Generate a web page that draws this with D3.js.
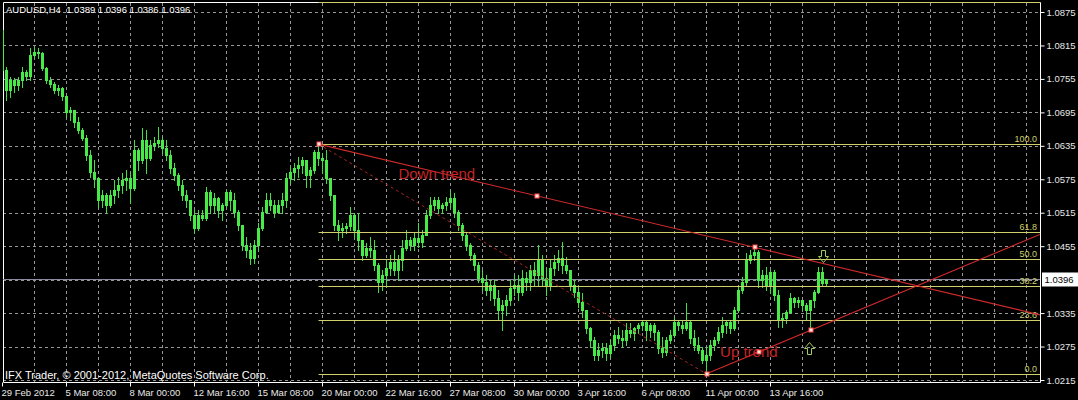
<!DOCTYPE html>
<html><head><meta charset="utf-8">
<script src="https://cdn.jsdelivr.net/npm/d3@7"></script>
<style>html,body{margin:0;padding:0;background:#000;overflow:hidden}svg{display:block}</style>
</head><body><svg id="c" width="1078" height="400"></svg>
<script>
// ---------- data ----------
const chartTitle = "AUDUSD,H4  1.0389 1.0396 1.0386 1.0396";
const copyrightText = "IFX Trader, \u00A9 2001-2012, MetaQuotes Software Corp.";
const timeLabels = ["29 Feb 2012","5 Mar 08:00","8 Mar 00:00","12 Mar 16:00","15 Mar 08:00","20 Mar 00:00","22 Mar 16:00","27 Mar 08:00","30 Mar 00:00","3 Apr 16:00","6 Apr 08:00","11 Apr 00:00","13 Apr 16:00"];
const timeLabelBars = [0,16,32,48,64,80,96,112,128,144,160,176,192];
const priceTicks = [1.0875,1.0815,1.0755,1.0695,1.0635,1.0575,1.0515,1.0455,1.0335,1.0275,1.0215];
const gridPrices = [1.0875,1.0815,1.0755,1.0695,1.0635,1.0575,1.0515,1.0455,1.0395,1.0335,1.0275,1.0215];

const opens = [1.0843,1.0771,1.0735,1.0753,1.0744,1.0753,1.0767,1.0760,1.0798,1.0803,
1.0801,1.0775,1.0753,1.0746,1.0735,1.0739,1.0724,1.0696,1.0699,1.0678,
1.0663,1.0649,1.0618,1.0588,1.0577,1.0538,1.0547,1.0529,1.0547,1.0556,
1.0565,1.0574,1.0577,1.0559,1.0627,1.0610,1.0645,1.0613,1.0636,1.0640,
1.0645,1.0631,1.0618,1.0595,1.0583,1.0565,1.0547,1.0538,1.0511,1.0488,
1.0511,1.0505,1.0552,1.0529,1.0541,1.0520,1.0529,1.0552,1.0538,1.0516,
1.0493,1.0457,1.0448,1.0434,1.0457,1.0488,1.0516,1.0538,1.0529,1.0516,
1.0529,1.0538,1.0577,1.0588,1.0595,1.0600,1.0610,1.0583,1.0592,1.0624,
1.0613,1.0610,1.0577,1.0547,1.0493,1.0484,1.0488,1.0491,1.0511,1.0484,
1.0466,1.0439,1.0452,1.0448,1.0421,1.0391,1.0403,1.0416,1.0427,1.0412,
1.0430,1.0452,1.0466,1.0457,1.0470,1.0462,1.0475,1.0511,1.0529,1.0538,
1.0523,1.0529,1.0534,1.0541,1.0516,1.0493,1.0475,1.0457,1.0439,1.0421,
1.0398,1.0391,1.0376,1.0385,1.0362,1.0340,1.0349,1.0358,1.0380,1.0385,
1.0373,1.0398,1.0391,1.0412,1.0403,1.0430,1.0398,1.0385,1.0416,1.0427,
1.0434,1.0421,1.0412,1.0385,1.0373,1.0355,1.0340,1.0308,1.0287,1.0260,
1.0269,1.0272,1.0263,1.0278,1.0295,1.0290,1.0287,1.0304,1.0299,1.0308,
1.0313,1.0319,1.0304,1.0313,1.0301,1.0272,1.0265,1.0287,1.0295,1.0319,
1.0313,1.0308,1.0319,1.0290,1.0278,1.0269,1.0251,1.0260,1.0278,1.0287,
1.0301,1.0313,1.0319,1.0308,1.0340,1.0376,1.0391,1.0430,1.0439,1.0444,
1.0394,1.0403,1.0385,1.0409,1.0367,1.0322,1.0326,1.0337,1.0362,1.0355,
1.0358,1.0349,1.0340,1.0358,1.0373,1.0409,1.0389];

const highs = [1.0852,1.0776,1.0758,1.0757,1.0758,1.0776,1.0771,1.0810,1.0812,1.0810,
1.0803,1.0776,1.0758,1.0749,1.0744,1.0740,1.0726,1.0705,1.0699,1.0687,
1.0667,1.0654,1.0627,1.0610,1.0579,1.0556,1.0550,1.0556,1.0574,1.0579,
1.0586,1.0592,1.0586,1.0645,1.0631,1.0667,1.0663,1.0645,1.0651,1.0669,
1.0651,1.0645,1.0627,1.0604,1.0586,1.0574,1.0556,1.0538,1.0520,1.0520,
1.0520,1.0561,1.0556,1.0550,1.0543,1.0532,1.0556,1.0556,1.0550,1.0520,
1.0493,1.0471,1.0461,1.0466,1.0496,1.0525,1.0550,1.0550,1.0538,1.0538,
1.0550,1.0586,1.0597,1.0604,1.0615,1.0615,1.0610,1.0597,1.0627,1.0638,
1.0622,1.0627,1.0577,1.0547,1.0502,1.0496,1.0496,1.0525,1.0514,1.0514,
1.0466,1.0461,1.0471,1.0466,1.0425,1.0412,1.0430,1.0439,1.0448,1.0439,
1.0466,1.0484,1.0471,1.0478,1.0496,1.0484,1.0520,1.0543,1.0543,1.0543,
1.0532,1.0543,1.0556,1.0550,1.0520,1.0496,1.0478,1.0461,1.0443,1.0427,
1.0412,1.0403,1.0394,1.0394,1.0376,1.0358,1.0367,1.0394,1.0403,1.0403,
1.0412,1.0409,1.0421,1.0427,1.0457,1.0439,1.0416,1.0430,1.0439,1.0448,
1.0462,1.0435,1.0412,1.0394,1.0382,1.0371,1.0340,1.0310,1.0292,1.0281,
1.0281,1.0281,1.0287,1.0304,1.0310,1.0304,1.0317,1.0317,1.0310,1.0317,
1.0322,1.0322,1.0317,1.0317,1.0304,1.0292,1.0292,1.0304,1.0328,1.0322,
1.0322,1.0353,1.0322,1.0304,1.0292,1.0274,1.0274,1.0287,1.0292,1.0310,
1.0328,1.0322,1.0322,1.0346,1.0382,1.0400,1.0443,1.0448,1.0453,1.0448,
1.0412,1.0418,1.0412,1.0412,1.0376,1.0335,1.0340,1.0371,1.0364,1.0364,
1.0358,1.0353,1.0358,1.0376,1.0418,1.0418,1.0396];

const lows = [1.0753,1.0717,1.0722,1.0732,1.0735,1.0740,1.0753,1.0753,1.0794,1.0793,
1.0771,1.0748,1.0740,1.0730,1.0726,1.0717,1.0687,1.0681,1.0669,1.0658,
1.0645,1.0610,1.0579,1.0561,1.0525,1.0525,1.0514,1.0525,1.0532,1.0543,
1.0550,1.0556,1.0532,1.0556,1.0592,1.0604,1.0586,1.0610,1.0627,1.0633,
1.0622,1.0610,1.0586,1.0574,1.0556,1.0538,1.0525,1.0502,1.0478,1.0484,
1.0502,1.0502,1.0514,1.0514,1.0507,1.0502,1.0525,1.0520,1.0507,1.0484,
1.0448,1.0435,1.0423,1.0425,1.0448,1.0484,1.0514,1.0520,1.0507,1.0514,
1.0514,1.0525,1.0568,1.0574,1.0579,1.0586,1.0561,1.0561,1.0586,1.0600,
1.0586,1.0568,1.0538,1.0484,1.0466,1.0471,1.0478,1.0484,1.0471,1.0448,
1.0430,1.0435,1.0435,1.0412,1.0373,1.0376,1.0385,1.0403,1.0403,1.0394,
1.0412,1.0448,1.0448,1.0448,1.0453,1.0453,1.0475,1.0505,1.0520,1.0514,
1.0514,1.0520,1.0525,1.0507,1.0484,1.0466,1.0448,1.0430,1.0412,1.0391,
1.0376,1.0367,1.0358,1.0349,1.0322,1.0304,1.0331,1.0349,1.0367,1.0358,
1.0367,1.0376,1.0376,1.0385,1.0385,1.0385,1.0367,1.0376,1.0403,1.0412,
1.0407,1.0407,1.0376,1.0364,1.0346,1.0328,1.0299,1.0274,1.0251,1.0251,
1.0256,1.0251,1.0256,1.0269,1.0281,1.0274,1.0278,1.0292,1.0287,1.0299,
1.0304,1.0287,1.0292,1.0287,1.0263,1.0256,1.0260,1.0281,1.0292,1.0304,
1.0299,1.0304,1.0281,1.0269,1.0263,1.0245,1.0226,1.0251,1.0269,1.0281,
1.0292,1.0299,1.0299,1.0304,1.0337,1.0371,1.0385,1.0425,1.0430,1.0382,
1.0382,1.0376,1.0371,1.0358,1.0310,1.0310,1.0317,1.0335,1.0346,1.0346,
1.0340,1.0322,1.0304,1.0346,1.0371,1.0385,1.0386];

const closes = [1.0771,1.0735,1.0753,1.0744,1.0753,1.0767,1.0760,1.0798,1.0803,1.0801,
1.0775,1.0753,1.0746,1.0735,1.0739,1.0724,1.0696,1.0699,1.0678,1.0663,
1.0649,1.0618,1.0588,1.0577,1.0538,1.0547,1.0529,1.0547,1.0556,1.0565,
1.0574,1.0577,1.0559,1.0627,1.0610,1.0645,1.0613,1.0636,1.0640,1.0645,
1.0631,1.0618,1.0595,1.0583,1.0565,1.0547,1.0538,1.0511,1.0488,1.0511,
1.0505,1.0552,1.0529,1.0541,1.0520,1.0529,1.0552,1.0538,1.0516,1.0493,
1.0457,1.0448,1.0434,1.0457,1.0488,1.0516,1.0538,1.0529,1.0516,1.0529,
1.0538,1.0577,1.0588,1.0595,1.0600,1.0610,1.0583,1.0592,1.0624,1.0613,
1.0610,1.0577,1.0547,1.0493,1.0484,1.0488,1.0491,1.0511,1.0484,1.0466,
1.0439,1.0452,1.0448,1.0421,1.0391,1.0403,1.0416,1.0427,1.0412,1.0430,
1.0452,1.0466,1.0457,1.0470,1.0462,1.0475,1.0511,1.0529,1.0538,1.0523,
1.0529,1.0534,1.0541,1.0516,1.0493,1.0475,1.0457,1.0439,1.0421,1.0398,
1.0391,1.0376,1.0385,1.0362,1.0340,1.0349,1.0358,1.0380,1.0385,1.0373,
1.0398,1.0391,1.0412,1.0403,1.0430,1.0398,1.0385,1.0416,1.0427,1.0434,
1.0421,1.0412,1.0385,1.0373,1.0355,1.0340,1.0308,1.0287,1.0260,1.0269,
1.0272,1.0263,1.0278,1.0295,1.0290,1.0287,1.0304,1.0299,1.0308,1.0313,
1.0319,1.0304,1.0313,1.0301,1.0272,1.0265,1.0287,1.0295,1.0319,1.0313,
1.0308,1.0319,1.0290,1.0278,1.0269,1.0251,1.0260,1.0278,1.0287,1.0301,
1.0313,1.0319,1.0308,1.0340,1.0376,1.0391,1.0430,1.0439,1.0444,1.0394,
1.0403,1.0385,1.0409,1.0367,1.0322,1.0326,1.0337,1.0362,1.0355,1.0358,
1.0349,1.0340,1.0358,1.0373,1.0409,1.0389,1.0396];

const bidPrice = 1.0396;
const fibHigh = {bar: 79, price: 1.0638};
const fibLow = {bar: 176, price: 1.0226};
const fibLevels = [0, 23.6, 38.2, 50.0, 61.8, 100.0, 161.8];
const downTrend = [{bar: 79, price: 1.0638}, {bar: 188, price: 1.0453}];
const upTrend = [{bar: 176, price: 1.0226}, {bar: 202, price: 1.0304}];
const textNotes = [{text: "Down trend", bar: 99, price: 1.05754}, {text: "Up trend", bar: 179.4, price: 1.02562}];
const arrowMarks = [{dir: "down", bar: 205.1, price: 1.04373}, {dir: "up", bar: 201.5, price: 1.02732}];

// ---------- drawing ----------
const W = 1078, H = 400;
const plot = {left: 3, right: 1040, top: 3, bottom: 382};
const FONT = "'Liberation Sans', Arial, sans-serif";
const x = d3.scaleLinear().domain([0, 256]).range([2.5, 1026.5]);
const y = d3.scaleLinear().domain([1.0215, 1.0875]).range([380, 12]);
const crisp = v => Math.round(v) + 0.5;

const svg = d3.select('#c');
svg.append('rect').attr('width', W).attr('height', H).attr('fill', '#000');
svg.append('defs').append('clipPath').attr('id', 'plotclip')
  .append('rect').attr('x', plot.left).attr('y', 0).attr('width', plot.right - plot.left).attr('height', plot.bottom + 0.5);

// grid
const grid = svg.append('g').attr('stroke', '#969696').attr('stroke-width', 1).attr('stroke-dasharray', '3,3');
grid.selectAll('line.h').data(gridPrices).join('line').attr('class', 'h')
  .attr('x1', plot.left).attr('x2', plot.right)
  .attr('y1', d => crisp(y(d))).attr('y2', d => crisp(y(d)));
const vgrid = d3.range(8, 257, 8);
grid.selectAll('line.v').data(vgrid).join('line').attr('class', 'v')
  .attr('x1', d => x(d)).attr('x2', d => x(d))
  .attr('y1', plot.top).attr('y2', plot.bottom);

// border
const border = svg.append('g').attr('stroke', '#ffffff').attr('stroke-width', 1).attr('fill', 'none');
border.append('path').attr('d', `M${plot.left + 0.5},${plot.bottom + 0.5}V2.5H${plot.right + 0.5}V${plot.bottom + 0.5}H${plot.left + 0.5}`);

// bid line
svg.append('line').attr('x1', plot.left).attr('x2', plot.right)
  .attr('y1', crisp(y(bidPrice))).attr('y2', crisp(y(bidPrice)))
  .attr('stroke', '#8a8aa0').attr('stroke-width', 1);

// candles
const bars = closes.map((c, i) => ({i, o: opens[i], h: highs[i], l: lows[i], c}));
const cg = svg.append('g').attr('clip-path', 'url(#plotclip)');
cg.selectAll('line.wick').data(bars).join('line').attr('class', 'wick')
  .attr('x1', d => x(d.i)).attr('x2', d => x(d.i))
  .attr('y1', d => Math.round(y(d.h))).attr('y2', d => Math.round(y(d.l)) + 1)
  .attr('stroke', '#3fe03f').attr('stroke-width', 1);
cg.selectAll('rect.body').data(bars).join('rect').attr('class', 'body')
  .attr('x', d => x(d.i) - 1.5).attr('width', 3)
  .attr('y', d => Math.round(y(Math.max(d.o, d.c))))
  .attr('height', d => Math.max(1, Math.round(y(Math.min(d.o, d.c))) - Math.round(y(Math.max(d.o, d.c))) + 1))
  .attr('fill', '#48ea48');

// fibonacci
const fibG = svg.append('g');
const fibPrice = lv => fibLow.price + (fibHigh.price - fibLow.price) * lv / 100;
fibG.selectAll('line').data(fibLevels).join('line')
  .attr('x1', x(fibHigh.bar)).attr('x2', plot.right)
  .attr('y1', d => crisp(y(fibPrice(d)))).attr('y2', d => crisp(y(fibPrice(d))))
  .attr('stroke', '#cfcf6c').attr('stroke-width', 1);
fibG.selectAll('text').data(fibLevels.filter(d => y(fibPrice(d)) > 12)).join('text')
  .attr('x', plot.right - 3).attr('y', d => crisp(y(fibPrice(d))) - 2.5)
  .attr('text-anchor', 'end').attr('font-family', FONT).attr('font-size', 9)
  .attr('fill', '#cfcf6c').text(d => d.toFixed(1));

// fib base dashed line
svg.append('line')
  .attr('x1', x(fibHigh.bar)).attr('y1', y(fibHigh.price))
  .attr('x2', x(fibLow.bar)).attr('y2', y(fibLow.price))
  .attr('stroke', '#a82424').attr('stroke-width', 1).attr('stroke-dasharray', '3,3');

// trend rays
const rayEnd = t => {
  const b = x.invert(plot.right);
  return {bar: b, price: t[0].price + (t[1].price - t[0].price) * (b - t[0].bar) / (t[1].bar - t[0].bar)};
};
const tg = svg.append('g').attr('clip-path', 'url(#plotclip)');
[downTrend, upTrend].forEach(t => {
  const e = rayEnd(t);
  tg.append('line')
    .attr('x1', x(t[0].bar)).attr('y1', y(t[0].price))
    .attr('x2', x(e.bar)).attr('y2', y(e.price))
    .attr('stroke', '#d02a2a').attr('stroke-width', 1.1);
});

// text notes
svg.selectAll('text.note').data(textNotes).join('text').attr('class', 'note')
  .attr('x', d => x(d.bar)).attr('y', d => y(d.price))
  .attr('font-family', FONT).attr('font-size', 15).attr('fill', '#c42424')
  .text(d => d.text);

// anchor markers
const markerPts = [];
[downTrend, upTrend].forEach(t => {
  markerPts.push(t[0], {bar: (t[0].bar + t[1].bar) / 2, price: (t[0].price + t[1].price) / 2}, t[1]);
});
svg.selectAll('rect.mk').data(markerPts).join('rect').attr('class', 'mk')
  .attr('x', d => Math.round(x(d.bar)) - 2).attr('y', d => Math.round(y(d.price)) - 2)
  .attr('width', 4).attr('height', 4)
  .attr('fill', '#ffe4dc').attr('stroke', '#ff5050').attr('stroke-width', 1);

// arrows
const arrowPath = (cx, cy, dir) => {
  const s = dir === 'down' ? 1 : -1;
  return `M${cx - 2},${cy - 6 * s}H${cx + 2}V${cy}H${cx + 5}L${cx},${cy + 6 * s}L${cx - 5},${cy}H${cx - 2}Z`;
};
svg.selectAll('path.arrow').data(arrowMarks).join('path').attr('class', 'arrow')
  .attr('d', d => arrowPath(Math.round(x(d.bar)) + 0.5, Math.round(y(d.price)) + 0.5, d.dir))
  .attr('fill', 'none').attr('stroke', '#a6cc60').attr('stroke-width', 1);

// axes
const yAxis = d3.axisRight(y).tickValues(priceTicks).tickFormat(d3.format('.4f')).tickSize(4).tickPadding(2);
const ya = svg.append('g').attr('transform', `translate(${plot.right + 0.5},0)`).call(yAxis);
ya.select('.domain').remove();
ya.selectAll('line').attr('stroke', '#ffffff');
ya.selectAll('text').attr('fill', '#e8e8e8').attr('font-family', FONT).attr('font-size', 9.5);

const xAxis = d3.axisBottom(x).tickValues(timeLabelBars).tickFormat((d, i) => timeLabels[i]).tickSize(4).tickPadding(3).offset(0);
const xa = svg.append('g').attr('transform', `translate(0,${plot.bottom + 0.5})`).call(xAxis);
xa.select('.domain').remove();
xa.selectAll('line').attr('stroke', '#ffffff');
xa.selectAll('text').attr('fill', '#e8e8e8').attr('font-family', FONT).attr('font-size', 9.5)
  .attr('text-anchor', 'start').attr('x', -1);

// bid label
const by = crisp(y(bidPrice));
svg.append('rect').attr('x', plot.right + 2).attr('y', by - 7).attr('width', 36).attr('height', 14).attr('fill', '#ffffff');
svg.append('text').attr('x', plot.right + 4.5).attr('y', by + 3.5)
  .attr('font-family', FONT).attr('font-size', 9.5).attr('fill', '#000').text(d3.format('.4f')(bidPrice));

// title and copyright
svg.append('text').attr('x', 6).attr('y', 13).attr('font-family', FONT).attr('font-size', 9.5)
  .attr('fill', '#ffffff').attr('xml:space', 'preserve').style('white-space', 'pre').text(chartTitle);
svg.append('text').attr('x', 5).attr('y', 379).attr('font-family', FONT).attr('font-size', 11)
  .attr('fill', '#ffffff').text(copyrightText);
</script>
</body></html>
